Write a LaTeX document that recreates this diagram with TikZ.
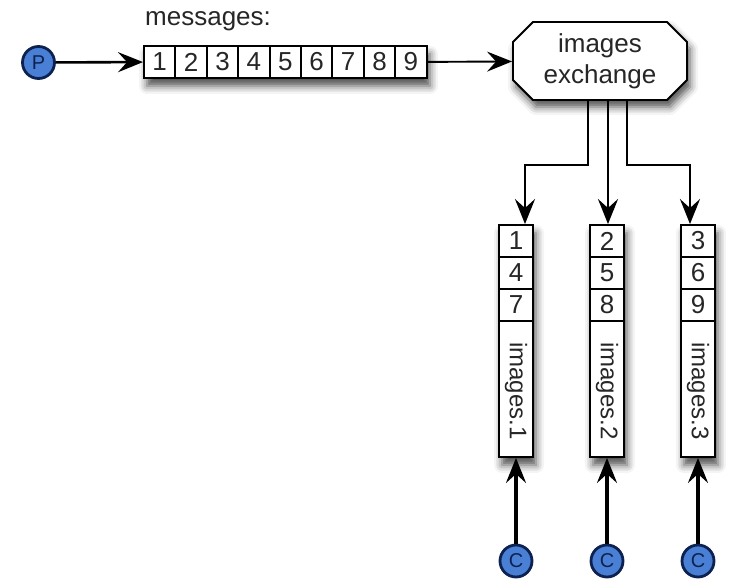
\documentclass[tikz,border=0pt]{standalone}
\usepackage{fontspec}
\setmainfont{Liberation Sans}
\usetikzlibrary{shapes.misc,arrows.meta,positioning,calc,fit,shadows.blur}
\definecolor{QueueBlue}{HTML}{4A7FD6}
\definecolor{QueueNavy}{HTML}{0D2250}
\definecolor{QueueText}{HTML}{262626}
\tikzset{
    % Base box style
    basebox/.style={
        draw=black,
        fill=white,
        line width=1.9pt,
        inner sep=0pt,
        text=QueueText,
        font=\fontsize{26}{28}\selectfont
    },
    % One message slot of the main queue
    msgcell/.style={
        basebox,
        minimum width=31.4pt,
        minimum height=32pt
    },
    % One message slot of a consumer queue
    slotcell/.style={
        basebox,
        minimum width=34pt,
        minimum height=32pt
    },
    % Frame behind a queue, carries the shadow
    queueframe/.style={
        basebox,
        blur shadow={shadow xshift=3pt, shadow yshift=-8pt, shadow blur radius=8pt, shadow opacity=70}
    },
    % Exchange box
    exchangenode/.style={
        basebox,
        chamfered rectangle,
        chamfered rectangle xsep=10pt,
        chamfered rectangle ysep=10pt,
        minimum width=174pt,
        minimum height=78pt,
        align=center,
        font=\fontsize{26}{31}\selectfont,
        blur shadow={shadow xshift=3pt, shadow yshift=-7pt, shadow blur radius=8pt, shadow opacity=70}
    },
    % Producer / consumer
    clientnode/.style={
        circle,
        draw=QueueNavy,
        fill=QueueBlue,
        line width=2.8pt,
        minimum size=32pt,
        inner sep=0pt,
        text=QueueNavy,
        font=\fontsize{20}{20}\selectfont
    },
    % Arrow styles
    myarrow/.style={
        -{Stealth[length=25pt,width=20pt,inset=9pt]},
        line width=2.6pt,
        draw=black
    },
    thinarrow/.style={
        myarrow,
        line width=1.9pt
    },
    thickarrow/.style={
        myarrow,
        line width=3.2pt
    }
}
\begin{document}
\begin{tikzpicture}[x=1pt,y=-1pt]
    \useasboundingbox (0,0) rectangle (742,583);

    % producer and message queue
    \node[clientnode] (p) at (38.5,62.5) {P};
    \node[queueframe, minimum width=283pt, minimum height=32pt] (msgq) at (285.5,62) {};
    \foreach \n in {1,...,9} {
        \node[msgcell] (m\n) at ({144+31.4*(\n-0.5)},62) {\n};
    }
    \node[anchor=south west, inner sep=0pt, text=QueueText, font=\fontsize{26}{28}\selectfont] (msglabel) at (145,31) {messages:};

    % exchange
    \node[exchangenode] (ex) at (600,61) {images\\exchange};

    \draw[myarrow] (p) -- (m1);
    \draw[thinarrow] (m9) -- (ex);

    % consumer queues
    \foreach \q/\x/\a/\b/\c in {1/516/1/4/7, 2/607/2/5/8, 3/698/3/6/9} {
        \node[queueframe, minimum width=34pt, minimum height=232pt] (q\q) at (\x,341) {};
        \node[slotcell] (q\q a) at (\x,241) {\a};
        \node[slotcell] (q\q b) at (\x,273) {\b};
        \node[slotcell] (q\q c) at (\x,305) {\c};
        \node[basebox, minimum width=34pt, minimum height=136pt] (q\q l) at (\x,389) {};
        \node[rotate=-90, inner sep=0pt, text=QueueText, font=\fontsize{24}{26}\selectfont] (q\q t) at (\x,391) {images.\q};
        \node[clientnode] (c\q) at (\x,561) {C};
        \draw[thickarrow] (c\q) -- (q\q l.south);
    }

    % bindings
    \coordinate (o1) at ($(ex.south)+(-12,0)$);
    \coordinate (o2) at ($(ex.south)+(8,0)$);
    \coordinate (o3) at ($(ex.south)+(27,0)$);
    \coordinate (i1) at ($(q1a.north)+(9,0)$);
    \coordinate (i3) at ($(q3a.north)+(-8,0)$);
    \draw[myarrow] (o1) -- ++(0,64) -| (i1);
    \draw[myarrow] (o2) -- (o2 |- q2a.north);
    \draw[myarrow] (o3) -- ++(0,64) -| (i3);
\end{tikzpicture}
\end{document}
